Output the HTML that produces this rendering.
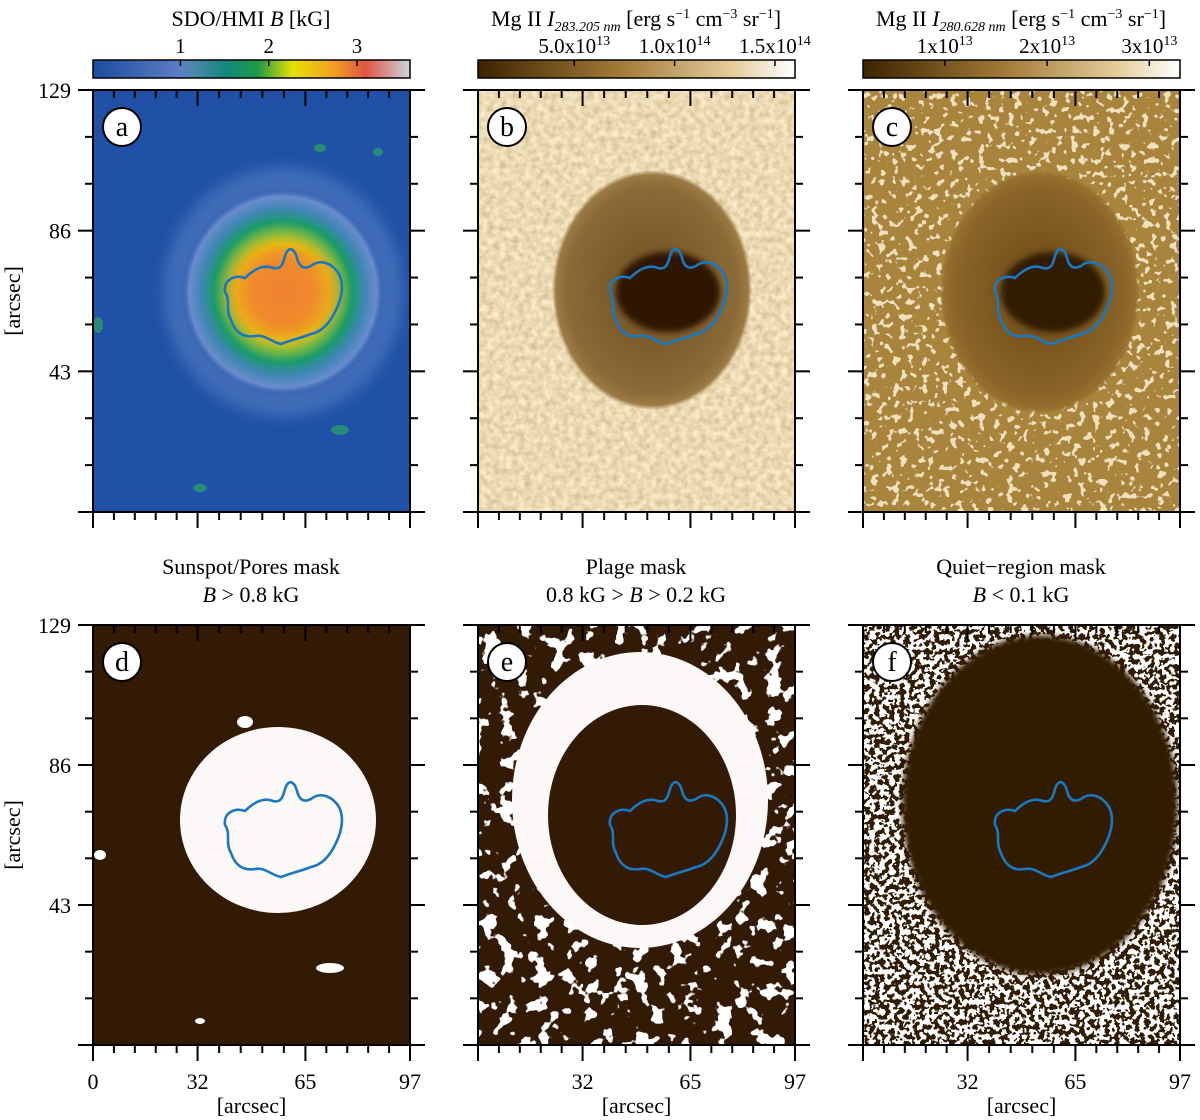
<!DOCTYPE html>
<html><head><meta charset="utf-8">
<style>
html,body{margin:0;padding:0;background:#fff;}
svg{display:block;font-family:"Liberation Serif","DejaVu Serif",serif;}
</style></head>
<body>
<svg id="fig" width="1200" height="1120" viewBox="0 0 1200 1120" xmlns="http://www.w3.org/2000/svg">
<defs>
 <linearGradient id="cbA" x1="0" x2="1" y1="0" y2="0">
  <stop offset="0" stop-color="#1b4c9e"/><stop offset="0.28" stop-color="#5e7fc4"/>
  <stop offset="0.32" stop-color="#4a88a8"/><stop offset="0.42" stop-color="#12887a"/>
  <stop offset="0.52" stop-color="#1d9a48"/><stop offset="0.63" stop-color="#e6e000"/>
  <stop offset="0.76" stop-color="#f0a020"/><stop offset="0.86" stop-color="#e05444"/>
  <stop offset="1" stop-color="#ccd6de"/>
 </linearGradient>
 <linearGradient id="cbB" x1="0" x2="1">
  <stop offset="0" stop-color="#3d2400"/><stop offset="0.45" stop-color="#a47a38"/>
  <stop offset="0.8" stop-color="#e4cc9a"/><stop offset="1" stop-color="#ffffff"/>
 </linearGradient>
 <radialGradient id="spotA" cx="0.5" cy="0.5" r="0.5">
  <stop offset="0" stop-color="#f08a30"/><stop offset="0.3" stop-color="#f0a020"/>
  <stop offset="0.45" stop-color="#e6d800"/><stop offset="0.55" stop-color="#8ec03a"/>
  <stop offset="0.68" stop-color="#1a9a6a"/><stop offset="0.8" stop-color="#3f86b4"/>
  <stop offset="0.92" stop-color="#6a8ccc"/><stop offset="1" stop-color="#1f55a8" stop-opacity="0"/>
 </radialGradient>
 <radialGradient id="penB" cx="0.5" cy="0.5" r="0.5">
  <stop offset="0" stop-color="#6e4e20"/><stop offset="0.85" stop-color="#8a6a36"/>
  <stop offset="0.96" stop-color="#9c7a44"/><stop offset="1" stop-color="#9c7a44" stop-opacity="0"/>
 </radialGradient>
 <radialGradient id="penC" cx="0.5" cy="0.5" r="0.5">
  <stop offset="0" stop-color="#6a4814"/><stop offset="0.85" stop-color="#8a6428"/>
  <stop offset="0.96" stop-color="#95702e"/><stop offset="1" stop-color="#95702e" stop-opacity="0"/>
 </radialGradient>
 <filter id="granB" x="0" y="0" width="100%" height="100%">
  <feTurbulence type="fractalNoise" baseFrequency="0.16" numOctaves="2" seed="3"/>
  <feColorMatrix type="matrix" values="0 0 0 0.5 0.58  0 0 0 0.5 0.45  0 0 0 0.45 0.23  0 0 0 0 1"/>
 </filter>
 <filter id="granC" x="0" y="0" width="100%" height="100%">
  <feTurbulence type="fractalNoise" baseFrequency="0.14" numOctaves="2" seed="7"/>
  <feColorMatrix type="matrix" values="0 0 0 0 0  0 0 0 0 0  0 0 0 0 0  0 0 0 -20 8" result="a"/>
  <feFlood flood-color="#f0e0bc"/>
  <feComposite in2="a" operator="in" result="w"/>
  <feFlood flood-color="#a8843e"/>
  <feComposite in="w" operator="over"/>
 </filter>
 <filter id="speck" x="0" y="0" width="100%" height="100%">
  <feTurbulence type="fractalNoise" baseFrequency="0.2" numOctaves="2" seed="11"/>
  <feColorMatrix type="matrix" values="0 0 0 0 0  0 0 0 0 0  0 0 0 0 0  0 0 0 -40 20.5" result="a"/>
  <feFlood flood-color="#ffffff"/>
  <feComposite in2="a" operator="in" result="w"/>
  <feFlood flood-color="#331a04"/>
  <feComposite in="w" operator="over"/>
 </filter>
 <filter id="speck2" x="0" y="0" width="100%" height="100%">
  <feTurbulence type="fractalNoise" baseFrequency="0.06" numOctaves="3" seed="5"/>
  <feColorMatrix type="matrix" values="0 0 0 0 0  0 0 0 0 0  0 0 0 0 0  0 0 0 -30 12.6" result="a"/>
  <feFlood flood-color="#ffffff"/>
  <feComposite in2="a" operator="in"/>
 </filter>
 <filter id="blur6"><feGaussianBlur stdDeviation="6"/></filter>
 <filter id="blur3"><feGaussianBlur stdDeviation="3"/></filter>
 <path id="contour" d="M-58,0 C-60,-12 -48,-18 -38,-14 C-30,-22 -20,-28 -10,-24 C-2,-22 0,-28 2,-36 C6,-48 12,-42 14,-34 C16,-26 20,-22 28,-26 C38,-34 50,-28 56,-18 C62,-6 58,8 52,20 C46,32 38,40 28,42 C18,46 8,48 -2,52 C-12,50 -18,42 -28,44 C-40,46 -48,40 -52,28 C-58,18 -52,8 -58,0 Z" fill="none" stroke="#1a78c2" stroke-width="2.6"/>
 <clipPath id="cA"><rect x="93" y="90" width="317" height="422"/></clipPath>
 <clipPath id="cB"><rect x="478" y="90" width="317" height="422"/></clipPath>
 <clipPath id="cC"><rect x="863" y="90" width="317" height="422"/></clipPath>
 <clipPath id="cD"><rect x="93" y="625" width="317" height="420"/></clipPath>
 <clipPath id="cE"><rect x="478" y="625" width="317" height="420"/></clipPath>
 <clipPath id="cF"><rect x="863" y="625" width="317" height="420"/></clipPath>
</defs>

<g clip-path="url(#cA)">
 <rect x="93" y="90" width="317" height="422" fill="#1f52a6"/>
 <ellipse cx="283" cy="292" rx="120" ry="125" fill="#5f85c8" opacity="0.5" filter="url(#blur6)"/>
 <ellipse cx="283" cy="292" rx="102" ry="104" fill="url(#spotA)"/>
 <ellipse cx="283" cy="292" rx="55" ry="50" fill="#f07a34" opacity="0.55" filter="url(#blur6)"/>
 <g fill="#2a8a7a"><ellipse cx="320" cy="148" rx="6" ry="4"/><ellipse cx="378" cy="152" rx="5" ry="4"/><ellipse cx="340" cy="430" rx="9" ry="5"/><ellipse cx="200" cy="488" rx="7" ry="4"/><ellipse cx="98" cy="325" rx="5" ry="8"/></g>
 <use href="#contour" x="283" y="292"/>
</g>
<g clip-path="url(#cB)">
 <rect x="478" y="90" width="317" height="422" filter="url(#granB)"/>
 <ellipse cx="652" cy="290" rx="100" ry="120" fill="url(#penB)"/>
 <ellipse cx="668" cy="292" rx="52" ry="40" fill="#2e1800" filter="url(#blur3)"/>
 <use href="#contour" x="668" y="292"/>
</g>
<g clip-path="url(#cC)">
 <rect x="863" y="90" width="317" height="422" filter="url(#granC)"/>
 <ellipse cx="1040" cy="292" rx="100" ry="122" fill="url(#penC)"/>
 <ellipse cx="1053" cy="292" rx="52" ry="40" fill="#301a02" filter="url(#blur3)"/>
 <use href="#contour" x="1053" y="292"/>
</g>
<g clip-path="url(#cD)">
 <rect x="93" y="625" width="317" height="420" fill="#331a04"/>
 <ellipse cx="278" cy="820" rx="98" ry="93" fill="#fdf8f8"/>
 <g fill="#fff"><ellipse cx="245" cy="722" rx="8" ry="6"/><ellipse cx="330" cy="968" rx="14" ry="5"/><ellipse cx="100" cy="855" rx="6" ry="5"/><ellipse cx="200" cy="1021" rx="5" ry="3"/></g>
 <use href="#contour" x="283" y="825"/>
</g>
<g clip-path="url(#cE)">
 <rect x="478" y="625" width="317" height="420" fill="#331a04"/>
 <rect x="478" y="625" width="317" height="420" filter="url(#speck2)"/>
 <ellipse cx="640" cy="800" rx="128" ry="148" fill="#fdf8f8"/>
 <ellipse cx="642" cy="815" rx="94" ry="110" fill="#331a04"/>
 <use href="#contour" x="668" y="825"/>
</g>
<g clip-path="url(#cF)">
 <rect x="863" y="625" width="317" height="420" filter="url(#speck)"/>
 <ellipse cx="1040" cy="805" rx="138" ry="170" fill="#331a04" filter="url(#blur3)"/>
 <use href="#contour" x="1053" y="825"/>
</g>

<rect x="93" y="60" width="317" height="18" fill="url(#cbA)" stroke="#000" stroke-width="1.5"/>
<rect x="478" y="60" width="317" height="18" fill="url(#cbB)" stroke="#000" stroke-width="1.5"/>
<rect x="863" y="60" width="317" height="18" fill="url(#cbB)" stroke="#000" stroke-width="1.5"/>

<g font-size="22" text-anchor="middle" fill="#000">
 <text x="251" y="26">SDO/HMI <tspan font-style="italic">B</tspan> [kG]</text>
 <text x="636" y="26">Mg II <tspan font-style="italic">I</tspan><tspan font-style="italic" font-size="14" dy="5">283.205 nm</tspan><tspan dy="-5"> [erg s</tspan><tspan font-size="14" dy="-8">−1</tspan><tspan dy="8"> cm</tspan><tspan font-size="14" dy="-8">−3</tspan><tspan dy="8"> sr</tspan><tspan font-size="14" dy="-8">−1</tspan><tspan dy="8">]</tspan></text>
 <text x="1021" y="26">Mg II <tspan font-style="italic">I</tspan><tspan font-style="italic" font-size="14" dy="5">280.628 nm</tspan><tspan dy="-5"> [erg s</tspan><tspan font-size="14" dy="-8">−1</tspan><tspan dy="8"> cm</tspan><tspan font-size="14" dy="-8">−3</tspan><tspan dy="8"> sr</tspan><tspan font-size="14" dy="-8">−1</tspan><tspan dy="8">]</tspan></text>
 <text x="251" y="574">Sunspot/Pores mask</text>
 <text x="251" y="602"><tspan font-style="italic">B</tspan> &gt; 0.8 kG</text>
 <text x="636" y="574">Plage mask</text>
 <text x="636" y="602">0.8 kG &gt; <tspan font-style="italic">B</tspan> &gt; 0.2 kG</text>
 <text x="1021" y="574">Quiet−region mask</text>
 <text x="1021" y="602"><tspan font-style="italic">B</tspan> &lt; 0.1 kG</text>
</g>
<g id="dyn"></g>
</svg>
<script>
const cbTicksA = [1, 2, 3];
const cbRangeA = [0.01, 3.6];
const cbLabelsB = ["5.0x10", "1.0x10", "1.5x10"];
const cbExpB = ["13", "14", "14"];
const cbTicksB = [5.0e13, 1.0e14, 1.5e14];
const cbRangeB = [0.2e13, 1.6e14];
const cbLabelsC = ["1x10", "2x10", "3x10"];
const cbExpC = ["13", "13", "13"];
const cbTicksC = [1e13, 2e13, 3e13];
const cbRangeC = [0.2e13, 3.3e13];
const xTicks = [0, 32, 65, 97];
const yTicks = [43, 86, 129];
const axisMax = [97, 129];
const letters = ["a", "b", "c", "d", "e", "f"];

const NS = "http://www.w3.org/2000/svg";
const dyn = document.getElementById("dyn");
function mk(tag, attrs, parent) {
  const e = document.createElementNS(NS, tag);
  for (const k in attrs) e.setAttribute(k, attrs[k]);
  (parent || dyn).appendChild(e);
  return e;
}
const PW = 317;
const cols = [93, 478, 863];
const rows = [[90, 422], [625, 420]];
function sx(x0, v) { return x0 + v / axisMax[0] * PW; }
function sy(y0, h, v) { return y0 + h - v / axisMax[1] * h; }

function colorbarTicks(x0, ticks, range, labels, exps) {
  ticks.forEach((t, i) => {
    const x = x0 + (t - range[0]) / (range[1] - range[0]) * PW;
    const l = mk("line", {x1: x, x2: x, y1: 60, y2: 66, stroke: "#000", "stroke-width": 1.5});
    
    
    const tx = mk("text", {x: x, y: 53, "font-size": 21, "text-anchor": "middle"});
    
    
    if (exps) {
      tx.appendChild(document.createTextNode(labels[i]));
      const s = mk("tspan", {"font-size": 14, dy: -8}, tx);
      s.textContent = exps[i];
    } else tx.textContent = String(t);
  });
}
colorbarTicks(cols[0], cbTicksA, cbRangeA, null, null);
colorbarTicks(cols[1], cbTicksB, cbRangeB, cbLabelsB, cbExpB);
colorbarTicks(cols[2], cbTicksC, cbRangeC, cbLabelsC, cbExpC);

rows.forEach((r, ri) => {
  const [y0, h] = r;
  cols.forEach((x0, ci) => {
    const g = mk("g", {});
    
    
    mk("rect", {x: x0, y: y0, width: PW, height: h, fill: "none", stroke: "#000", "stroke-width": 2}, g);
    mk("line", {x1: x0 - 15, x2: x0 + PW + 15, y1: y0, y2: y0, stroke: "#000", "stroke-width": 2}, g);
    mk("line", {x1: x0 - 15, x2: x0 + PW + 15, y1: y0 + h, y2: y0 + h, stroke: "#000", "stroke-width": 2}, g);
    for (let i = 0; i < xTicks.length - 1; i++) {
      for (let k = 0; k < 5; k++) {
        const v = xTicks[i] + (xTicks[i + 1] - xTicks[i]) * k / 5;
        const x = sx(x0, v);
        const len = (k === 0) ? 16 : 8;
        mk("line", {x1: x, x2: x, y1: y0, y2: y0 + len, stroke: "#000", "stroke-width": 2}, g);
        mk("line", {x1: x, x2: x, y1: y0 + h, y2: y0 + h + len, stroke: "#000", "stroke-width": 2}, g);
      }
    }
    const xe = sx(x0, xTicks[xTicks.length - 1]);
    mk("line", {x1: xe, x2: xe, y1: y0 + h, y2: y0 + h + 16, stroke: "#000", "stroke-width": 2}, g);
    const ys = [0].concat(yTicks);
    for (let i = 0; i < ys.length - 1; i++) {
      for (let k = 1; k <= 3; k++) {
        const v = ys[i] + (ys[i + 1] - ys[i]) * k / 3;
        const y = sy(y0, h, v);
        const len = (k === 3) ? 15 : 8;
        mk("line", {x1: x0 - len, x2: x0, y1: y, y2: y, stroke: "#000", "stroke-width": 2}, g);
        mk("line", {x1: x0 + PW, x2: x0 + PW + len, y1: y, y2: y, stroke: "#000", "stroke-width": 2}, g);
      }
    }
    if (ci === 0) {
      yTicks.forEach(v => {
        const t = mk("text", {x: x0 - 22, y: sy(y0, h, v) + 8, "font-size": 22, "text-anchor": "end"});
        
        
        t.textContent = String(v);
      });
      const yl = mk("text", {x: 0, y: 0, "font-size": 22, "text-anchor": "middle", transform: "translate(20," + (y0 + h / 2) + ") rotate(-90)"});
      
      
      yl.textContent = "[arcsec]";
    }
    if (ri === 1) {
      xTicks.forEach(v => {
        if (v === 0 && ci > 0) return;
        const t = mk("text", {x: sx(x0, v), y: y0 + h + 44, "font-size": 22, "text-anchor": "middle"});
        
        
        t.textContent = String(v);
      });
      const xl = mk("text", {x: x0 + PW / 2, y: y0 + h + 68, "font-size": 22, "text-anchor": "middle"});
      
      
      xl.textContent = "[arcsec]";
    }
    mk("circle", {cx: x0 + 29, cy: y0 + 37, r: 19, fill: "#fff", stroke: "#000", "stroke-width": 2}, g);
    const lt = mk("text", {x: x0 + 29, y: y0 + 46, "font-size": 28, "text-anchor": "middle"}, g);
    
    
    lt.textContent = letters[ri * 3 + ci];
  });
});
</script>
</body></html>
